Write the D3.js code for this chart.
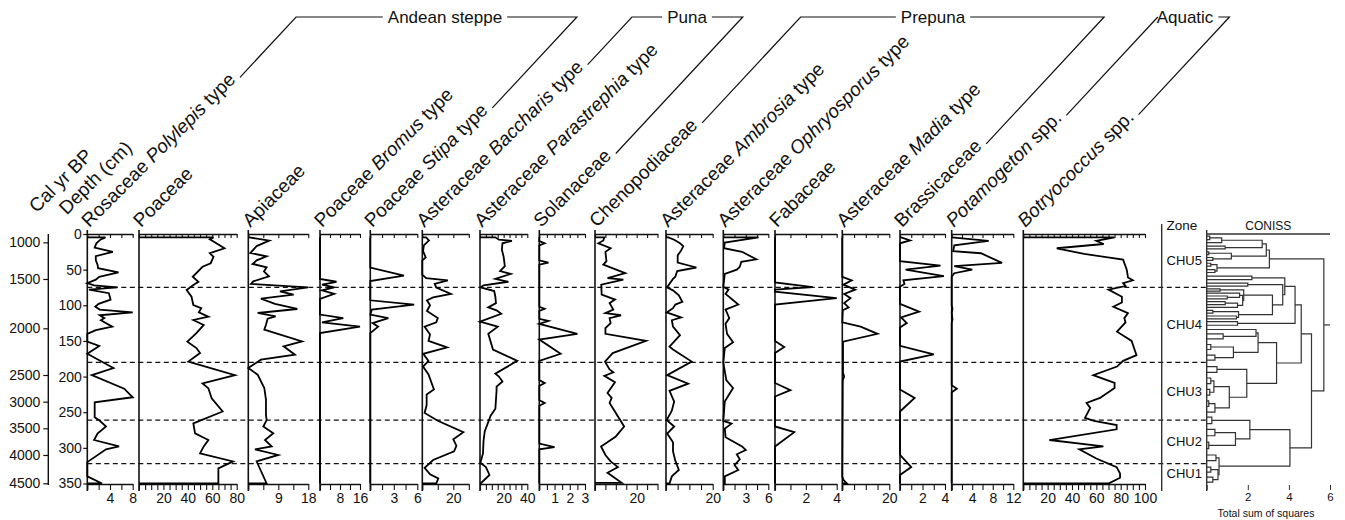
<!DOCTYPE html>
<html>
<head>
<meta charset="utf-8">
<script src="https://cdn.jsdelivr.net/npm/d3@7"></script>
<style>
  body { margin: 0; background: #fff; }
  text { font-family: "Liberation Sans", Arial, sans-serif; fill: #111; }
</style>
</head>
<body>
<svg id="chart"></svg>
<script>
// taxon names: [plain, italic, plain]
const taxonNames = [
  ["Rosaceae ", "Polylepis", " type"],
  ["Poaceae", "", ""],
  ["Apiaceae", "", ""],
  ["Poaceae ", "Bromus", " type"],
  ["Poaceae ", "Stipa", " type"],
  ["Asteraceae ", "Baccharis", " type"],
  ["Asteraceae ", "Parastrephia", " type"],
  ["Solanaceae", "", ""],
  ["Chenopodiaceae", "", ""],
  ["Asteraceae ", "Ambrosia", " type"],
  ["Asteraceae ", "Ophryosporus", " type"],
  ["Fabaceae", "", ""],
  ["Asteraceae ", "Madia", " type"],
  ["Brassicaceae", "", ""],
  ["", "Potamogeton", " spp."],
  ["", "Botryococcus", " spp."]
];
const axisMax = [8, 80, 18, 16, 6, 30, 40, 3, 30, 20, 6, 4, 20, 4, 12, 100];
const tickStep = [2, 5, 4.5, 4, 1.5, 10, 5, 0.5, 5, 5, 1.5, 1, 5, 1, 2, 5];
const tickLabels = [[4, 8], [20, 40, 60, 80], [9, 18], [8, 16], [3, 6], [20], [20, 40], [1, 2, 3], [20], [20], [3, 6], [2, 4], [20], [2, 4], [4, 8, 12], [20, 40, 60, 80, 100]];

const groupNames = ["Andean steppe", "Puna", "Prepuna", "Aquatic"];
const groupSpan = [[0, 4], [5, 7], [8, 13], [14, 15]];

const depthTicks = [0, 50, 100, 150, 200, 250, 300, 350];
const ageTicks = [1000, 1500, 2000, 2500, 3000, 3500, 4000, 4500];
const ageTickDepths = [11.7, 63.1, 132.3, 197.8, 235.2, 272.6, 310, 349.7];

const zoneNames = ["CHU5", "CHU4", "CHU3", "CHU2", "CHU1"];
const zoneBounds = [0, 75, 180, 261, 322, 350];

// [depth cm, %]
const polylepis = [[4.7,3.2],[8,2.3],[13,1.6],[19,1.3],[25,4.5],[31,1.5],[37,1.5],[43,1.8],[48,1.9],[54,5.5],[60,2.1],[64,1.5],[69,0],[72,1.2],[75,5.3],[78,0.3],[83,3.8],[92,4.1],[98,2],[102,1.4],[106,2.2],[110,8],[114,2.2],[118,3],[121,2.4],[130,4.4],[135,1.5],[140,0],[151,0],[157,2.1],[168,0],[188,4.6],[198,0.8],[217,6.5],[229,8],[236,1.3],[257,1.3],[262,2.2],[270,3.3],[280,1.8],[289,1.2],[298,5.6],[302,3.3],[320,0],[340,0],[350,2.6]];
const poaceae = [[4.7,61],[7.5,58],[20,70],[27,58],[32,61],[41,58.7],[46,52],[60,44],[67,48.6],[71.5,44.5],[78.5,39],[88,43],[99.6,44.5],[104,51],[110,49],[116,56.8],[120.6,44.5],[127.6,53],[139,47],[151,39.6],[160,47],[167,50],[179,40.4],[198,78.6],[209.5,52],[216.5,56.8],[230.5,59.5],[249,68.5],[265.6,44.5],[279.6,45.9],[289,56.8],[298,53],[307.7,50],[319,77],[328.7,65],[350,65]];
const apiaceae = [[4.7,0.3],[9.4,6.3],[17,2.5],[26.7,0.6],[31.3,5.5],[37,2.5],[42,1.3],[46.8,5.5],[52.4,4.7],[59.4,6.2],[66.4,1.5],[70,0.8],[74.8,17.9],[80.4,9.5],[85,13.6],[90.7,3.8],[98,8],[105.2,14.7],[110.8,2.8],[115.5,8.2],[118.8,5.8],[127.2,5.3],[134.2,4.8],[150.6,16.1],[157.6,10.6],[169.3,14],[176.3,3.8],[188,0],[197.3,2.8],[216,4.8],[232.4,5.3],[253.4,5.3],[261,5.5],[270,4.5],[279.6,7.5],[289,5],[298,7],[302,2],[310,9],[319,2.5],[350,5.5]];
const bromus = [[4.7,0],[63,0],[67,6.6],[71,0.8],[75,5.7],[79,0.8],[84,5.7],[91,0],[113,0],[118,9.3],[124,0.8],[130,16],[139,0],[350,0]];
const stipa = [[4.7,0],[47,0],[58.5,4.3],[66,0],[93,0],[99,5.6],[106,0.2],[113,0],[118,2.3],[125,0.3],[130,1],[139,0],[350,0]];
const baccharis = [[4.7,2.5],[9,4.3],[16,1],[24,0.5],[33,2.2],[37,0],[57,0],[62,2.5],[65,16.5],[70,8],[75,9],[84,18.5],[89,7],[93,3],[100,5],[108,3],[118,10],[124,9],[130,1.5],[141,5],[150,4],[159,16],[168,0.6],[178,4],[186,0.5],[197,4],[218,7.5],[225,2.8],[240,2.8],[251,1.5],[262,10],[278,26.5],[288,20],[297,22],[305,20.5],[317,7],[328,1.5],[337,5],[343,10.3],[350,9]];
const parastrephia = [[4.7,13],[8,16],[9.5,27],[13,19],[22,18.5],[32,20],[45,21],[52,17],[56,26],[63,13],[67,24],[72,3],[75,0.5],[80,12],[88,13],[97,13.5],[103,7],[107,14],[112,18],[123,0],[130,15],[140,7],[162,11],[178,31.5],[196,13],[200,16],[207,19],[214,14],[220,14],[245,13],[255,9],[277,4],[290,3],[308,2.5],[321,0.3],[327,5],[338,8],[350,0.5]];
const solanaceae = [[4.7,0],[10,0],[13,0.35],[16,0],[37,0],[40,0.6],[43,0],[102,0],[105,0.35],[108,0],[119,0],[122,0.6],[126,0],[140,2.5],[148,0],[168,1.4],[178,0],[205,0],[209,0.35],[213,0],[233,0],[237,0.35],[241,0],[294,0],[299,1.0],[302,0],[350,0]];
const chenopodiaceae = [[4.7,4.5],[9,4],[13,1.6],[20,7.5],[25,5],[38,5.5],[43,4],[55,14.5],[62,6],[64,13.6],[71,3],[85,3.2],[92,9.6],[97,7],[106,8.8],[111,5],[114,12.5],[118,7],[125,7.5],[132,5],[140,5],[150,24.5],[167,8.5],[179,4.8],[190,7],[194,8.8],[199,4.5],[208,9.6],[223,6],[230,8],[237,7],[244,8.5],[270,14],[284,10],[298,2.9],[310,5],[319,7.5],[327,11],[335,6],[349,12.8]];
const ambrosia = [[4.7,1],[8,3.5],[13,6],[17,7.4],[23,6.5],[30,5],[40,5],[47,13],[52,4.8],[60,4],[63,3],[75,0.4],[79,3],[86,5.5],[95,7],[99,4],[104,3],[110,0.3],[117,6.5],[121,2.5],[130,3],[142,6],[158,1.5],[162,3],[179,11],[198,0.5],[210,9.5],[220,1.5],[235,3.5],[248,2.5],[261,0.3],[270,3.5],[280,0.5],[292,3],[305,3],[318,4],[331,5.5],[340,2.5],[350,1.5]];
const ophryosporus = [[4.7,4.7],[12,0.2],[20,0.1],[25,2.5],[35.5,4.4],[39,2.4],[46,2.2],[50,1.8],[56,0.2],[74,0],[78,0.7],[84,0.3],[99,2],[106,0.3],[118,0.8],[126,0.3],[140,0.5],[152,1.3],[160,0.2],[180,0],[205,0.4],[216,1.3],[235,0.2],[262,0],[266,1.1],[273,0.2],[285,0.3],[298,2.5],[303,3],[309,1.8],[316,2.2],[324,1.5],[331,2],[340,0.2],[350,0.2]];
const fabaceae = [[4.7,0],[68,0],[74.5,2.45],[78,0],[81,0],[90,4],[99,0],[150,0],[158.5,0.6],[167,0],[209,0],[219,1],[228,0],[270,0],[278,1.25],[298,0],[350,0]];
const madia = [[4.7,0],[60,0],[65,4],[71,0.5],[78,5.5],[84,0.8],[90,3.5],[97,0.8],[103,2.7],[107,0.2],[124,0],[130,7.8],[140,15],[151,0.3],[195,0.3],[200,0.8],[205,0.2],[340,0],[345,0.5],[350,2]];
const brassicaceae = [[4.7,0.1],[9,0.9],[13,0],[38,0],[44.5,3.6],[50,0.5],[59,3.9],[65,0.3],[70,0.4],[74,0],[98,0],[109,1.7],[117,0.1],[125,0.6],[131,0],[157,0],[169,3],[179,0],[218,0],[230,1.3],[249,0],[310,0],[327,1],[338,0],[350,0]];
const potamogeton = [[4.7,0],[9.5,7.2],[16,0.5],[24,0.3],[27,5.7],[40.5,9.8],[45,0.5],[50,4],[55,0.5],[60,0],[100,0],[105,0.15],[110,0],[120,0.15],[125,0],[212,0],[217,1],[222,0],[350,0]];
const botryococcus = [[4.7,75],[9.5,60],[14,66],[20,27.5],[28,50],[36,82],[50,85],[61,86],[65,90],[69,82],[73,84],[78,70],[88,81],[96,81],[102,74],[111,86],[118,83],[124,84],[137,77],[150,89],[170,93],[178,82],[186,77],[198,57.5],[209,75],[216,75],[230,63],[237,52],[244,55],[258,50.7],[262,58],[268,76.7],[274,76.7],[289,21.4],[298,65.8],[302,46],[315,60],[327,76.7],[336,79.5],[342,79.5],[350,70]];

const series = [polylepis, poaceae, apiaceae, bromus, stipa, baccharis, parastrephia, solanaceae,
  chenopodiaceae, ambrosia, ophryosporus, fabaceae, madia, brassicaceae, potamogeton, botryococcus];

// CONISS tree: [height, left, right], leaves = sample depth
const coniss = [5.7,
  [3.05,
    [2.9, [2.7, [0.73, [0.15, 3, 8], 12], [0.9, 17, 21]], [1.2, [0.1, 25, 29], [0.3, 33, 37]]],
    [0.5, [0.2, 41, 45], [0.4, 50, 54]]],
  [5.1,
    [4.6,
      [4.3,
        [3.8, [2.2, 59, 64],
          [3.7, [2.0, 69, 73],
            [3.2, [1.8, [0.65, 77, 80], [1.75, [1.6, 83, [1.0, 87, 91]], [1.5, [0.9, 95, 99], 103]]],
              [1.55, [0.3, 107, 111], [1.45, 115, 119]]]]],
        [1.5, 123, 128]],
      [3.4,
        [2.5, [2.4, 134, [0.8, 140, 147]], [1.3, [0.2, 155, 162], [0.4, 170, 177]]],
        [1.95, [0.5, 186, 194], [1.1, [0.35, [0.2, 202, 210], [0.15, 218, 226]], [0.4, [0.1, 234, 242], 250]]]]],
    [4.05,
      [2.1, [0.25, 257, 266], [1.4, [0.4, 274, 283], [0.1, 292, 301]]],
      [0.6, [0.45, 310, 318], [0.55, [0.2, 327, 334], [0.3, 341, 348]]]]]];

// layout
const W = 1345, H = 520;
const panelLeft  = [87.3, 139, 248.3, 320, 370.3, 422.3, 480, 539.3, 595, 666, 723.3, 775, 842.3, 900, 951.7, 1023.3];
const panelRight = [132.7, 236.7, 308.3, 360, 417.3, 468.8, 527.3, 585, 657.5, 712.7, 768.3, 836.7, 889.3, 945, 1013.3, 1145];
const groupLabelX = [445, 687, 933, 1185];
const topY = 234, botY = 484;

const svg = d3.select("#chart").attr("width", W).attr("height", H);

const y = d3.scaleLinear().domain([0, 350]).range([topY, 483.5]);

// zone dashed lines
svg.append("g").selectAll("line")
  .data(zoneBounds.slice(1, -1))
  .join("line")
  .attr("x1", panelLeft[0]).attr("x2", 1206.7)
  .attr("y1", d => y(d)).attr("y2", d => y(d))
  .attr("stroke", "#111").attr("stroke-width", 1.3)
  .attr("stroke-dasharray", "5,3.5");

// panels
const line = d3.line();
series.forEach((s, i) => {
  const x = d3.scaleLinear().domain([0, axisMax[i]]).range([panelLeft[i], panelRight[i]]);
  const g = svg.append("g");
  const ticks = d3.range(0, axisMax[i] + 1e-6, tickStep[i]);

  const top = g.append("g").attr("transform", `translate(0,${topY})`)
    .call(d3.axisBottom(x).tickValues(ticks).tickSize(4).tickSizeOuter(0).tickFormat(""));
  const bot = g.append("g").attr("transform", `translate(0,${botY})`)
    .call(d3.axisBottom(x).tickValues(ticks).tickSize(6).tickSizeOuter(0)
      .tickFormat(d => tickLabels[i].some(v => Math.abs(v - d) < 1e-6) ? d : ""));
  [top, bot].forEach(a => {
    a.select(".domain").attr("stroke", "#111").attr("stroke-width", 1.4);
    a.selectAll(".tick line").attr("stroke", "#111").attr("stroke-width", 1.1);
  });
  bot.selectAll("text").attr("font-size", 14).attr("font-family", "Liberation Sans, Arial, sans-serif").attr("fill", "#111");

  g.append("line")
    .attr("x1", panelLeft[i]).attr("x2", panelLeft[i])
    .attr("y1", 230).attr("y2", 491)
    .attr("stroke", "#111").attr("stroke-width", 1.6);

  const pts = [[s[0][0], 0], ...s, [s[s.length - 1][0], 0]];
  g.append("path")
    .attr("d", line(pts.map(p => [x(p[1]), y(p[0])])))
    .attr("fill", "none").attr("stroke", "#000").attr("stroke-width", 1.8)
    .attr("stroke-linejoin", "miter").attr("stroke-miterlimit", 4);
});

// depth axis
const depthAxis = svg.append("g").attr("transform", `translate(${panelLeft[0]},0)`)
  .call(d3.axisLeft(y).tickValues(depthTicks).tickSize(4).tickSizeOuter(0));
depthAxis.select(".domain").remove();
depthAxis.selectAll(".tick line").attr("stroke", "#111").attr("stroke-width", 1.2);
depthAxis.selectAll("text").attr("font-size", 14).attr("font-family", "Liberation Sans, Arial, sans-serif").attr("fill", "#111").attr("x", -5.5);

// cal yr BP axis
const ageY = d3.scaleLinear().domain(ageTicks).range(ageTickDepths.map(d => y(d)));
const ageAxis = svg.append("g").attr("transform", "translate(48.3,0)")
  .call(d3.axisLeft(ageY).tickValues(ageTicks).tickSize(5).tickSizeOuter(0).tickFormat(d3.format("d")));
ageAxis.select(".domain").remove();
ageAxis.selectAll(".tick line").attr("stroke", "#111").attr("stroke-width", 1.2);
ageAxis.selectAll("text").attr("font-size", 14).attr("font-family", "Liberation Sans, Arial, sans-serif").attr("fill", "#111");
svg.append("line").attr("x1", 48.3).attr("x2", 48.3).attr("y1", topY).attr("y2", 485)
  .attr("stroke", "#111").attr("stroke-width", 1.4);

// rotated titles
const rotLabel = (x0, y0, parts) => {
  const t = svg.append("text")
    .attr("transform", `translate(${x0},${y0}) rotate(-45)`)
    .attr("font-size", 19).style("white-space", "pre");
  parts.forEach((p, k) => {
    if (p) t.append("tspan").attr("font-style", k === 1 ? "italic" : "normal").text(p);
  });
  return t.node().getComputedTextLength();
};
rotLabel(36.7, 213.5, ["Cal yr BP"]);
rotLabel(66.7, 215.5, ["Depth (cm)"]);

const titleEnds = taxonNames.map((parts, i) => {
  const x0 = panelLeft[i] + 2, y0 = 228;
  const L = rotLabel(x0, y0, parts) + 5;
  return [x0 + L * Math.SQRT1_2, y0 - L * Math.SQRT1_2];
});

// group brackets
const by = 17;
groupNames.forEach((name, k) => {
  const a = titleEnds[groupSpan[k][0]], b = titleEnds[groupSpan[k][1]];
  const t = svg.append("text").attr("x", groupLabelX[k]).attr("y", by + 6)
    .attr("text-anchor", "middle").attr("font-size", 17).text(name);
  const half = t.node().getComputedTextLength() / 2;
  const lx = a[0] + (a[1] - by) * 0.93, rx = b[0] + (b[1] - by) * 0.93;
  const gap = 5;
  svg.append("path")
    .attr("d", line([a, [lx, by], [Math.max(lx, groupLabelX[k] - half - gap), by]]))
    .attr("fill", "none").attr("stroke", "#111").attr("stroke-width", 1.2);
  svg.append("path")
    .attr("d", line([[Math.min(rx, groupLabelX[k] + half + gap), by], [rx, by], b]))
    .attr("fill", "none").attr("stroke", "#111").attr("stroke-width", 1.2);
});

// zone column
const zoneX = 1161.7;
svg.append("line").attr("x1", zoneX).attr("x2", zoneX).attr("y1", 224).attr("y2", 491)
  .attr("stroke", "#333").attr("stroke-width", 1.4);
svg.append("text").attr("x", 1166.5).attr("y", 230).attr("font-size", 13.5).text("Zone");
svg.append("g").selectAll("text")
  .data(zoneNames)
  .join("text")
  .attr("x", 1166.5)
  .attr("y", (d, k) => y((zoneBounds[k] + zoneBounds[k + 1]) / 2) + 4.5)
  .attr("font-size", 13)
  .text(d => d);

// CONISS
const cx = d3.scaleLinear().domain([0, 6]).range([1206.7, 1330]);
svg.append("line").attr("x1", cx(0)).attr("x2", cx(0)).attr("y1", 230).attr("y2", 491)
  .attr("stroke", "#333").attr("stroke-width", 1.4);
svg.append("line").attr("x1", cx(0)).attr("x2", cx(6)).attr("y1", topY).attr("y2", topY)
  .attr("stroke", "#333").attr("stroke-width", 1.4);
svg.append("text").attr("x", (cx(0) + cx(6)) / 2).attr("y", 230).attr("text-anchor", "middle")
  .attr("font-size", 12).text("CONISS");

const conAxis = svg.append("g").attr("transform", `translate(0,${botY + 1})`)
  .call(d3.axisBottom(cx).tickValues([0, 2, 4, 6]).tickSize(5).tickSizeOuter(0).tickFormat(d => d ? d : ""));
conAxis.select(".domain").remove();
conAxis.selectAll(".tick line").attr("stroke", "#333");
conAxis.selectAll("text").attr("font-size", 11.5).attr("font-family", "Liberation Sans, Arial, sans-serif").attr("fill", "#333");
svg.append("text").attr("x", 1266).attr("y", 517).attr("text-anchor", "middle")
  .attr("font-size", 10.5).attr("fill", "#333").text("Total sum of squares");

const dendro = svg.append("g").attr("fill", "none").attr("stroke", "#333").attr("stroke-width", 1.2);
const drawNode = node => {
  if (typeof node === "number") return { x: cx(0), y: y(node) };
  const [h, a, b] = node;
  const pa = drawNode(a), pb = drawNode(b), xh = cx(h);
  dendro.append("path").attr("d", line([[pa.x, pa.y], [xh, pa.y], [xh, pb.y], [pb.x, pb.y]]));
  return { x: xh, y: (pa.y + pb.y) / 2 };
};
const root = drawNode(coniss);
dendro.append("line").attr("x1", root.x).attr("x2", cx(6)).attr("y1", root.y).attr("y2", root.y);
</script>
</body>
</html>
